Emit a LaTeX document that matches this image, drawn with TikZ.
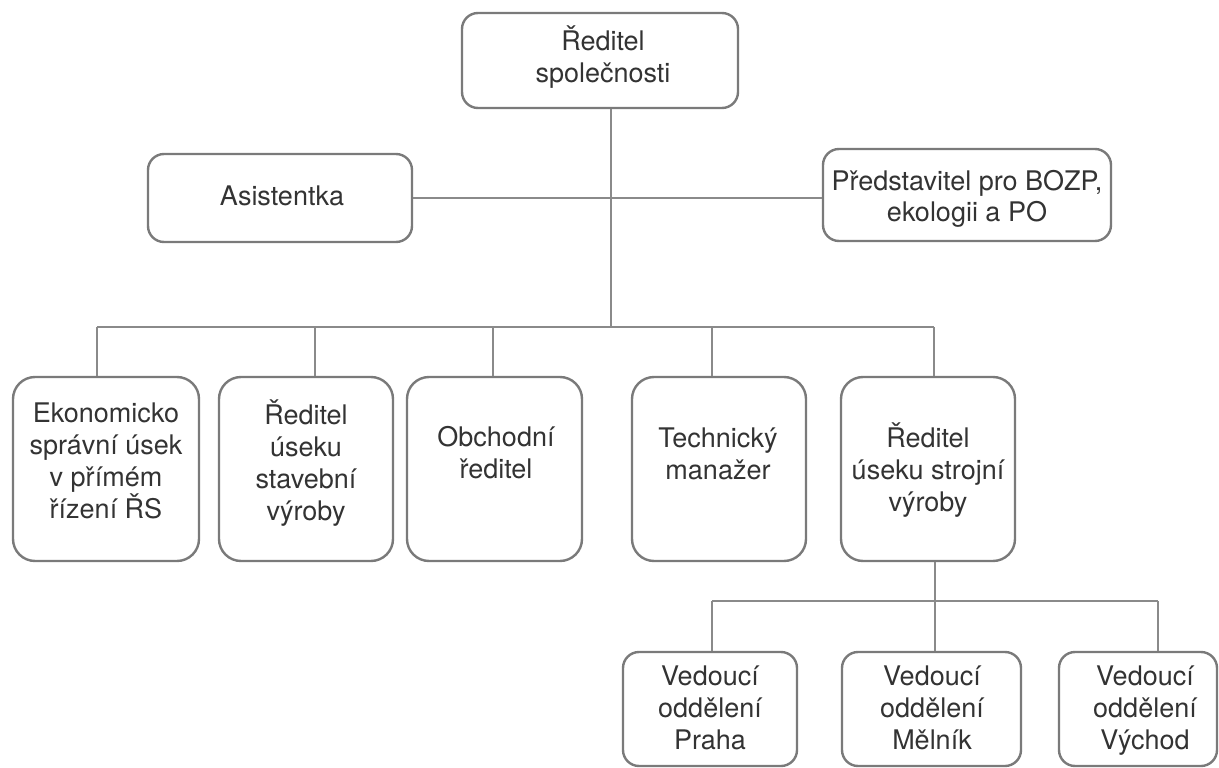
\documentclass[tikz,border=0pt]{standalone}
\usepackage{fontspec}
\setmainfont{TeX Gyre Heros}
\definecolor{boxgray}{HTML}{7A7A7A}
\definecolor{linegray}{HTML}{8A8A8A}
\definecolor{txtgray}{HTML}{333333}
\newcommand{\topstrutx}{\rule{0pt}{26pt}}
\begin{document}
\begin{tikzpicture}[x=1pt,y=-1pt,
  orgbox/.style={draw=boxgray, line width=2.4pt, rounded corners=16pt, inner sep=0pt, fill=white},
  bigbox/.style={orgbox, rounded corners=22pt},
  lbl/.style={anchor=north, inner sep=0pt, align=center, text=txtgray,
    font=\fontsize{27}{32}\selectfont},
  conn/.style={draw=linegray, line width=1.5pt}]
\useasboundingbox (0,0) rectangle (1219,768);
% level 0 and staff
\node[orgbox, minimum width=276pt, minimum height=95pt] (top) at (600,60.5) {};
\node[lbl] (top-t) at (603,24) {\topstrutx Ředitel\\společnosti};
\node[orgbox, minimum width=264pt, minimum height=88pt] (asist) at (280,198) {};
\node[lbl] (asist-t) at (282,179) {\topstrutx Asistentka};
\node[orgbox, minimum width=288pt, minimum height=92pt] (pred) at (967,195) {};
\node[lbl, font=\fontsize{27}{31}\selectfont] (pred-t) at (967,164) {\topstrutx Představitel pro BOZP,\\ekologii a PO};
% level 1
\node[bigbox, minimum width=186pt, minimum height=184pt] (b1) at (106,469) {};
\node[lbl] (b1-t) at (106,396) {\topstrutx Ekonomicko\\správní úsek\\v přímém\\řízení ŘS};
\node[bigbox, minimum width=174pt, minimum height=184pt] (b2) at (306,469) {};
\node[lbl] (b2-t) at (306,398) {\topstrutx Ředitel\\úseku\\stavební\\výroby};
\node[bigbox, minimum width=175pt, minimum height=184pt] (b3) at (494.5,469) {};
\node[lbl] (b3-t) at (496,420) {\topstrutx Obchodní\\ředitel};
\node[bigbox, minimum width=174pt, minimum height=184pt] (b4) at (719,469) {};
\node[lbl] (b4-t) at (718,421) {\topstrutx Technický\\manažer};
\node[bigbox, minimum width=174pt, minimum height=184pt] (b5) at (928,469) {};
\node[lbl] (b5-t) at (928,421) {\topstrutx Ředitel\\úseku strojní\\výroby};
% level 2
\node[orgbox, minimum width=174pt, minimum height=114pt] (c1) at (710,709) {};
\node[lbl] (c1-t) at (710,659) {\topstrutx Vedoucí\\oddělení\\Praha};
\node[orgbox, minimum width=179pt, minimum height=114pt] (c2) at (931.5,709) {};
\node[lbl] (c2-t) at (932,659) {\topstrutx Vedoucí\\oddělení\\Mělník};
\node[orgbox, minimum width=158pt, minimum height=114pt] (c3) at (1138,709) {};
\node[lbl] (c3-t) at (1145,659) {\topstrutx Vedoucí\\oddělení\\Východ};
% junction coordinates
\coordinate (j1) at (611,327);
\coordinate (d1) at (97,327);
\coordinate (d2) at (315,327);
\coordinate (d3) at (493,327);
\coordinate (d4) at (712,327);
\coordinate (d5) at (934,327);
\coordinate (j2) at (935,601);
\coordinate (e1) at (712,601);
\coordinate (e3) at (1158,601);
% connectors
\draw[conn] (top.south -| j1) -- (j1);
\draw[conn] (asist.east) -- (asist.east -| pred.west);
\draw[conn] (d1) -- (d5);
\draw[conn] (d1) -- (d1 |- b1.north);
\draw[conn] (d2) -- (d2 |- b2.north);
\draw[conn] (d3) -- (d3 |- b3.north);
\draw[conn] (d4) -- (d4 |- b4.north);
\draw[conn] (d5) -- (d5 |- b5.north);
\draw[conn] (j2 |- b5.south) -- (j2 |- c2.north);
\draw[conn] (e1) -- (e3);
\draw[conn] (e1) -- (e1 |- c1.north);
\draw[conn] (e3) -- (e3 |- c3.north);
\end{tikzpicture}
\end{document}
